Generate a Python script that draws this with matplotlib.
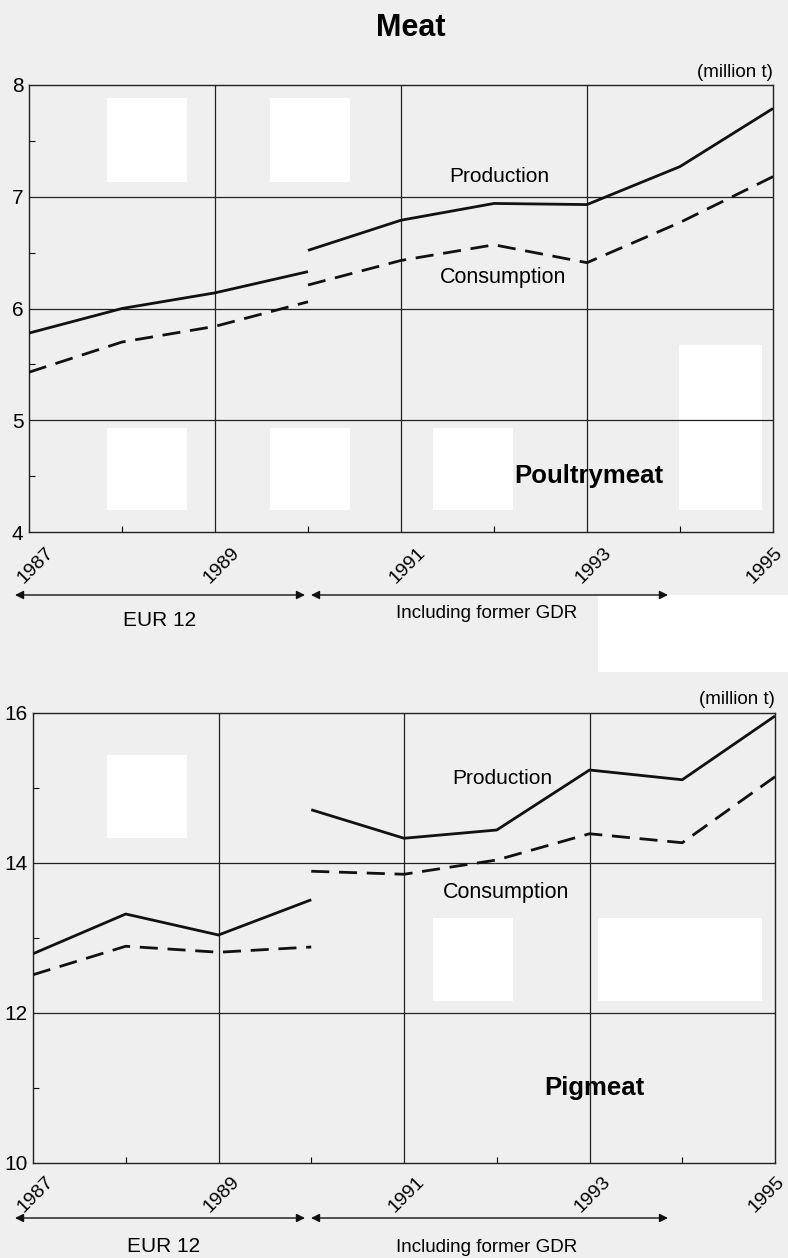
import matplotlib.pyplot as plt
import matplotlib.patches as mpatches
from matplotlib.transforms import ScaledTranslation

plt.rcParams['font.family'] = ['Liberation Sans', 'DejaVu Sans']

years_a = [1987, 1988, 1989, 1990]
years_b = [1990, 1991, 1992, 1993, 1994, 1995]

# Poultrymeat (million t)
poultry_prod_a = [5.78, 6.00, 6.14, 6.33]
poultry_prod_b = [6.52, 6.79, 6.94, 6.93, 7.27, 7.79]
poultry_cons_a = [5.43, 5.70, 5.84, 6.06]
poultry_cons_b = [6.21, 6.43, 6.57, 6.41, 6.77, 7.18]

# Pigmeat (million t)
pig_prod_a = [12.79, 13.32, 13.04, 13.51]
pig_prod_b = [14.71, 14.33, 14.44, 15.24, 15.11, 15.96]
pig_cons_a = [12.51, 12.89, 12.81, 12.88]
pig_cons_b = [13.89, 13.85, 14.04, 14.39, 14.27, 15.15]

year_ticks = [1987, 1989, 1991, 1993, 1995]

bg = '#efefef'
W, H = 788, 1258
fig = plt.figure(figsize=(7.88, 12.58), dpi=100, facecolor=bg)

def fx(px):
    return px / W

def fy(py):
    return 1 - py / H

# white blotches of the scanned page
for (x0, y0, x1, y1) in [(107, 98, 187, 182), (270, 98, 350, 182), (107, 428, 187, 510),
                         (270, 428, 350, 510), (433, 428, 513, 510), (679, 345, 762, 510),
                         (107, 755, 187, 838), (433, 918, 513, 1001), (598, 918, 762, 1001),
                         (598, 595, 788, 672)]:
    fig.patches.append(mpatches.Rectangle((fx(x0), fy(y1)), fx(x1 - x0), (y1 - y0) / H,
                                          transform=fig.transFigure, facecolor='white',
                                          edgecolor='none', zorder=-1))

def panel(rect, ymin, ymax, yticks, grid_y, prod_a, prod_b, cons_a, cons_b, name,
          prod_xy, cons_xy, name_xy, lab_dx, lab_dy):
    ax = fig.add_axes(rect)
    ax.patch.set_alpha(0)
    ax.set_xlim(1987, 1995)
    ax.set_ylim(ymin, ymax)
    for g in grid_y:
        ax.axhline(g, color='#222222', lw=0.9, zorder=1)
    for g in [1989, 1991, 1993]:
        ax.axvline(g, color='#222222', lw=0.9, zorder=1)
    for xs, ys in [(years_a, prod_a), (years_b, prod_b)]:
        ax.plot(xs, ys, color='#111111', lw=2.0, zorder=3, solid_capstyle='butt')
    for xs, ys in [(years_a, cons_a), (years_b, cons_b)]:
        ax.plot(xs, ys, color='#111111', lw=2.0, zorder=3, dashes=(6.5, 3.5))
    ax.set_yticks(yticks)
    ax.set_yticklabels([str(t) for t in yticks], fontsize=15)
    ax.set_yticks([t + (yticks[1] - yticks[0]) / 2 for t in yticks[:-1]], minor=True)
    ax.set_xticks(year_ticks)
    ax.set_xticklabels([])
    for yr in year_ticks:
        dx = 1 if yr == year_ticks[-1] else lab_dx
        trans = ax.get_xaxis_transform() + ScaledTranslation(dx / 100, lab_dy / 100,
                                                             fig.dpi_scale_trans)
        ax.text(yr, 0, str(yr), transform=trans, rotation=45, ha='right', va='top',
                rotation_mode='anchor', fontsize=14, clip_on=False)
    ax.set_xticks(range(1987, 1996), minor=True)
    ax.tick_params(axis='both', which='major', length=0, pad=4)
    ax.tick_params(axis='both', which='minor', length=4, direction='in', width=0.8)
    for s in ax.spines.values():
        s.set_color('#222222')
        s.set_linewidth(1.0)
    ax.text(prod_xy[0], prod_xy[1], 'Production', fontsize=15, ha='center', va='center')
    ax.text(cons_xy[0], cons_xy[1], 'Consumption', fontsize=15.5, ha='center', va='center')
    ax.text(name_xy[0], name_xy[1], name, fontsize=18.5, fontweight='bold',
            ha='center', va='center')
    ax.text(1.0, 1.01, '(million t)', transform=ax.transAxes, ha='right', va='bottom',
            fontsize=13.5)
    return ax

ax1 = panel([fx(29), fy(532), fx(744), 447 / H], 4, 8, [4, 5, 6, 7, 8], [5, 6, 7],
            poultry_prod_a, poultry_prod_b, poultry_cons_a, poultry_cons_b, 'Poultrymeat',
            (1992.06, 7.18), (1992.1, 6.28), (1993.02, 4.5), 16, -12)
ax2 = panel([fx(33), fy(1163), fx(742), 450 / H], 10, 16, [10, 12, 14, 16], [12, 14],
            pig_prod_a, pig_prod_b, pig_cons_a, pig_cons_b, 'Pigmeat',
            (1992.06, 15.12), (1992.1, 13.6), (1993.05, 11.0), 12, -10)

fig.text(fx(411), fy(28), 'Meat', fontsize=22, fontweight='bold', ha='center', va='center')

def arrows(y, eur_x, eur_y, gdr_y):
    for x0, x1 in [(15, 305), (311, 668)]:
        fig.add_artist(mpatches.FancyArrowPatch((fx(x0), fy(y)), (fx(x1), fy(y)),
                                                transform=fig.transFigure,
                                                arrowstyle='<|-|>,head_length=5,head_width=2.5',
                                                color='#111111', lw=1.0, shrinkA=0, shrinkB=0))
    fig.text(fx(eur_x), fy(eur_y), 'EUR 12', fontsize=15, ha='center', va='center')
    fig.text(fx(487), fy(gdr_y), 'Including former GDR', fontsize=13.5, ha='center',
             va='center')

arrows(595, 160, 621, 613)
arrows(1218, 164, 1247, 1248)

fig.savefig('out.png', dpi=100, facecolor=bg)
